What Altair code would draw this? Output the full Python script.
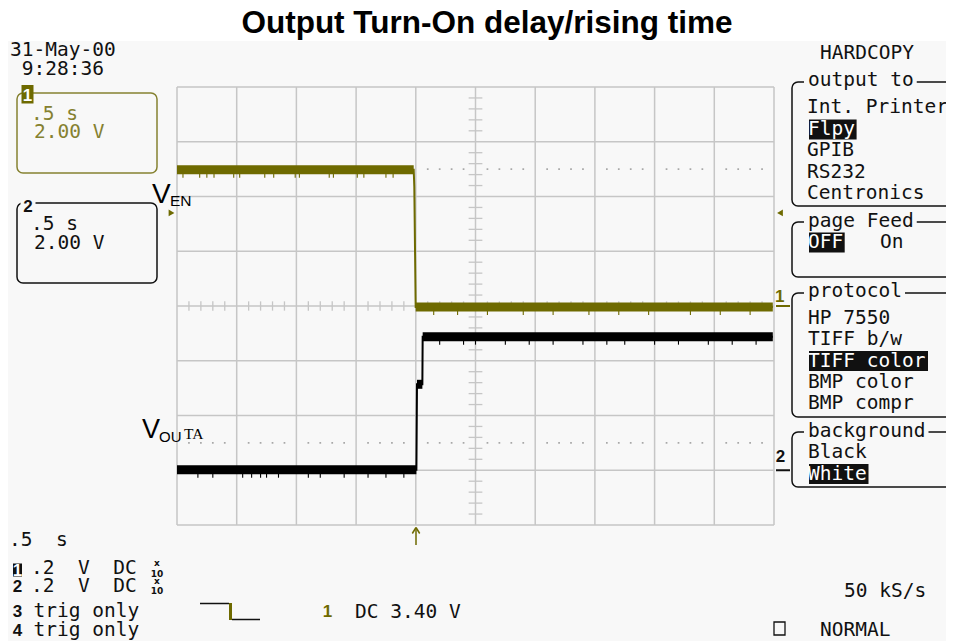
import altair as alt
import pandas as pd
import numpy as np

# ---------------- values ----------------
# time in horizontal divisions (0..10, .5 s/div), level in vertical divisions (-4..4)
ven_t = [0.0, 3.965, 3.975, 3.998, 9.98]
ven_v = [2.49, 2.49, 2.18, -0.02, -0.02]
vouta_t = [0.0, 4.010, 4.020, 4.110, 4.115, 9.98]
vouta_v = [-2.99, -2.99, -1.43, -1.43, -0.56, -0.56]
# positions (divisions) of visible noise spikes on the flat parts
ven_spikes = [0.1, 0.38, 0.5, 0.62, 0.95, 1.05, 1.47, 1.62, 1.98, 2.05, 2.55, 2.62, 3.02, 3.13,
              3.5, 3.62, 4.3, 4.7, 5.2, 5.8, 6.3, 6.9, 7.4, 7.9, 8.6, 9.1, 9.6]
vouta_spikes = [0.35, 0.6, 1.1, 1.25, 1.4, 1.5, 1.7, 2.2, 2.4, 2.8, 3.2, 3.5, 3.8,
                4.4, 4.8, 5.0, 5.5, 5.9, 6.3, 6.8, 7.2, 7.5, 8.0, 8.4, 8.9, 9.3, 9.7]
trigger_level = 1.70          # 3.40 V at 2.00 V/div
ground_levels = [0.0, -3.0]   # channel 1, channel 2

title_text = "Output Turn-On delay/rising time"
stamp = ["31-May-00", "9:28:36"]
ch_labels = [".5 s", "2.00 V"]
menu_header = "HARDCOPY"
sections = ["output to", "page Feed", "protocol", "background"]
output_items = ["Int. Printer", "Flpy", "GPIB", "RS232", "Centronics"]
feed_items = ["OFF", "On"]
protocol_items = ["HP 7550", "TIFF b/w", "TIFF color", "BMP color", "BMP compr"]
background_items = ["Black", "White"]
selected = ["Flpy", "OFF", "TIFF color", "White"]
timebase = ".5  s"
ch_rows = [".2  V  DC", ".2  V  DC", "trig only", "trig only"]
ch_nums = ["1", "2", "3", "4"]
trigger_text = "DC 3.40 V"
sample_rate = "50 kS/s"
mode_text = "NORMAL"

# ---------------- layout ----------------
X0, Y0 = 177, 87          # page position of the graticule
W, H = 597, 438           # graticule size
DIVY = H / 8
CW = 11.75                # monospace advance
OLIVE = "#6e6a00"
OLIVE2 = "#858130"
INK = "#111111"
GRID = "#c6c6c6"
SCREEN = "#f8f8f8"
WHITE = "#ffffff"

XS = alt.Scale(domain=[0, 10], nice=False, zero=False)
YS = alt.Scale(domain=[-4, 4], nice=False, zero=False)


def rx(x):
    return x - X0


def ry(y):
    return y - Y0


def nb(s):
    return s.replace(" ", "\u00a0")


PX = lambda f: alt.X(f, scale=None)
PY = lambda f: alt.Y(f, scale=None)

# ---- background of the scope screen ----
bg = alt.Chart(pd.DataFrame({"x": [rx(0)], "x2": [rx(960)], "y": [ry(41)], "y2": [ry(645)]})).mark_rect(
    fill=SCREEN).encode(x=PX("x:Q"), x2="x2:Q", y=PY("y:Q"), y2="y2:Q")

# ---- graticule ----
vl = pd.DataFrame({"t": list(range(11)), "a": -4, "b": 4})
hl = pd.DataFrame({"v": list(range(-4, 5)), "a": 0, "b": 10})
grid_v = alt.Chart(vl).mark_rule(color=GRID, strokeWidth=1.5).encode(
    x=alt.X("t:Q", scale=XS, axis=None), y=alt.Y("a:Q", scale=YS, axis=None), y2="b:Q")
grid_h = alt.Chart(hl).mark_rule(color=GRID, strokeWidth=1.5).encode(
    y=alt.Y("v:Q", scale=YS, axis=None), x=alt.X("a:Q", scale=XS, axis=None), x2="b:Q")

minor_t = [round(i * 0.2, 2) for i in range(51) if i % 5]
minor_v = [round(-4 + i * 0.2, 2) for i in range(41) if i % 5]
tk_h = pd.DataFrame({"t": minor_t, "a": -0.085, "b": 0.085})
tk_v = pd.DataFrame({"v": minor_v, "a": 5 - 0.115, "b": 5 + 0.115})
ticks_h = alt.Chart(tk_h).mark_rule(color=GRID, strokeWidth=1.3).encode(
    x=alt.X("t:Q", scale=XS, axis=None), y=alt.Y("a:Q", scale=YS, axis=None), y2="b:Q")
ticks_v = alt.Chart(tk_v).mark_rule(color=GRID, strokeWidth=1.3).encode(
    y=alt.Y("v:Q", scale=YS, axis=None), x=alt.X("a:Q", scale=XS, axis=None), x2="b:Q")
dots = pd.DataFrame([{"t": t, "v": v} for v in (2.5, -2.5) for t in minor_t])
dot_layer = alt.Chart(dots).mark_square(size=3, color="#a8a8a8", opacity=1).encode(
    x=alt.X("t:Q", scale=XS, axis=None), y=alt.Y("v:Q", scale=YS, axis=None))

# ---- traces ----
HB = 4.5 / DIVY
SP = 3.5 / DIVY


def flat_parts(ts, vs):
    rows = []
    for i in range(len(ts) - 1):
        if vs[i] == vs[i + 1] and ts[i + 1] - ts[i] > 0.05:
            rows.append((ts[i], ts[i + 1], vs[i]))
    return rows


def trace_layers(ts, vs, spikes, color):
    df = pd.DataFrame({"t": ts, "v": vs, "i": range(len(ts))})
    line = alt.Chart(df).mark_line(color=color, strokeWidth=2).encode(
        x=alt.X("t:Q", scale=XS, axis=None), y=alt.Y("v:Q", scale=YS, axis=None), order="i:Q")
    flats = flat_parts(ts, vs)
    bdf = pd.DataFrame([{"t0": a, "t1": b, "v0": v - HB, "v1": v + HB} for a, b, v in flats])
    band = alt.Chart(bdf).mark_rect(color=color).encode(
        x=alt.X("t0:Q", scale=XS, axis=None), x2="t1:Q",
        y=alt.Y("v0:Q", scale=YS, axis=None), y2="v1:Q")
    srows = []
    for t in spikes:
        for a, b, v in flats:
            if a <= t <= b:
                srows.append({"t": t, "v0": v - HB - SP, "v1": v})
    spk = alt.Chart(pd.DataFrame(srows)).mark_rule(color=color, strokeWidth=1.1).encode(
        x=alt.X("t:Q", scale=XS, axis=None), y=alt.Y("v0:Q", scale=YS, axis=None), y2="v1:Q")
    return [line, band, spk]


# ---- boxes ----
box_rows = [
    {"x": 17, "x2": 157, "y": 93, "y2": 173, "c": OLIVE2},
    {"x": 17, "x2": 157, "y": 203, "y2": 283, "c": INK},
]
sec_geom = [(82, 206, 86), (222, 277, 226.7), (293, 417, 296.7), (432, 487, 436.7)]
for (t, b, base) in sec_geom:
    box_rows.append({"x": 792, "x2": 975, "y": t, "y2": b, "c": INK})
boxes = pd.DataFrame(box_rows)
for col in ("x", "x2"):
    boxes[col] = boxes[col].map(rx)
for col in ("y", "y2"):
    boxes[col] = boxes[col].map(ry)
box_layer = alt.Chart(boxes).mark_rect(fillOpacity=0, strokeWidth=1.5, cornerRadius=6).encode(
    x=PX("x:Q"), x2="x2:Q", y=PY("y:Q"), y2="y2:Q", stroke=alt.Stroke("c:N", scale=None))

sq = pd.DataFrame({"x": [rx(774)], "x2": [rx(785)], "y": [ry(622)], "y2": [ry(635)]})
sq_layer = alt.Chart(sq).mark_rect(fillOpacity=0, strokeWidth=1.3, stroke=INK).encode(
    x=PX("x:Q"), x2="x2:Q", y=PY("y:Q"), y2="y2:Q")

# ---- filled rects: knockouts, highlights, channel blocks ----
fills = []


def frect(x, x2, y, y2, c):
    fills.append({"x": rx(x), "x2": rx(x2), "y": ry(y), "y2": ry(y2), "c": c})


mono_rows = []


def mono(text, x, y, c=INK):
    mono_rows.append({"x": rx(x), "y": ry(y), "text": nb(text), "c": c})


for name, (t, b, base) in zip(sections, sec_geom):
    frect(804, 808 + len(name) * CW + 3, t - 7, t + 7, SCREEN)
    mono(name, 808, base)

items = []
out_y = [113.4, 134.9, 156.3, 177.8, 199.3]
items += list(zip(output_items, [807] * 5, out_y))
items += [(feed_items[0], 808, 248), (feed_items[1], 880, 248)]
prot_y = [324, 345.3, 366.6, 388, 409.3]
items += list(zip(protocol_items, [808] * 5, prot_y))
items += list(zip(background_items, [808] * 2, [458, 479.5]))
for text, x, y in items:
    if text in selected:
        frect(809, 809 + len(text) * 11.9, y - 15.5, y + 4.5, INK)
        mono(text, 808, y, WHITE)
    else:
        mono(text, x, y)

frect(21.5, 33.5, 85, 103.5, OLIVE)       # channel 1 tag
frect(20.5, 35.5, 196, 213, SCREEN)       # channel 2 tag knockout
frect(13, 22, 563.5, 576.5, INK)          # channel 1 readout tag
fill_layer = alt.Chart(pd.DataFrame(fills)).mark_rect().encode(
    x=PX("x:Q"), x2="x2:Q", y=PY("y:Q"), y2="y2:Q", color=alt.Color("c:N", scale=None))

# ---- monospace readouts ----
mono(stamp[0], 10, 56)
mono(stamp[1], 21.75, 75)
mono(menu_header, 820, 59.3)
mono(ch_labels[0], 31, 119.5, OLIVE2)
mono(ch_labels[1], 34, 138.3, OLIVE2)
mono(ch_labels[0], 31, 229.5)
mono(ch_labels[1], 34, 249)
mono(timebase, 9, 546)
for text, y, x in zip(ch_rows, [574, 591.7, 617, 635.5], [31, 31, 33.5, 33.5]):
    mono(text, x, y)
mono(trigger_text, 355, 618)
mono(sample_rate, 844, 596.5)
mono(mode_text, 820, 635.5)
mono_layer = alt.Chart(pd.DataFrame(mono_rows)).mark_text(
    font="DejaVu Sans Mono", fontSize=19.5, align="left", baseline="alphabetic").encode(
    x=PX("x:Q"), y=PY("y:Q"), text="text:N", color=alt.Color("c:N", scale=None))

# ---- bold channel digits ----
digits = [
    ("1", 27.5, 100.5, WHITE), ("2", 28, 211.5, INK),
    (ch_nums[0], 17.5, 576, WHITE), (ch_nums[1], 17.5, 591.7, INK),
    (ch_nums[2], 17.5, 617, INK), (ch_nums[3], 17.5, 635.5, INK),
    ("1", 327.5, 617.3, OLIVE), ("1", 779.7, 301.7, OLIVE), ("2", 780.5, 461.7, INK),
]
dig = pd.DataFrame([{"x": rx(x), "y": ry(y), "text": t, "c": c} for t, x, y, c in digits])
dig_layer = alt.Chart(dig).mark_text(
    font="Liberation Sans", fontWeight="bold", fontSize=17, align="center", baseline="alphabetic").encode(
    x=PX("x:Q"), y=PY("y:Q"), text="text:N", color=alt.Color("c:N", scale=None))

# x10 probe marks
small = []
for base in (0, 17.7):
    small.append({"x": rx(157), "y": ry(566 + base), "text": "x", "s": 9})
    small.append({"x": rx(157), "y": ry(576.5 + base), "text": "10", "s": 9})
small_layer = alt.Chart(pd.DataFrame(small)).mark_text(
    font="DejaVu Sans", fontWeight="bold", align="center", baseline="alphabetic", color=INK).encode(
    x=PX("x:Q"), y=PY("y:Q"), text="text:N", size=alt.Size("s:Q", scale=None))

# ---- line segments: trigger icon, trigger arrow ----
segs = [
    (200, 603.5, 229, 603.5, INK, 1.5), (230.5, 603, 230.5, 620, OLIVE, 3),
    (232, 619.5, 260, 619.5, INK, 1.5),
    (416, 528.5, 416, 545, OLIVE, 1.5), (412.3, 533.5, 416, 527.5, OLIVE, 1.5),
    (419.7, 533.5, 416, 527.5, OLIVE, 1.5),
]
seg_df = pd.DataFrame([{"x": rx(a), "y": ry(b), "x2": rx(c), "y2": ry(d), "c": col, "w": w}
                       for a, b, c, d, col, w in segs])
seg_layer = alt.Chart(seg_df).mark_rule().encode(
    x=PX("x:Q"), y=PY("y:Q"), x2="x2:Q", y2="y2:Q",
    color=alt.Color("c:N", scale=None), strokeWidth=alt.StrokeWidth("w:Q", scale=None))

gnd = pd.DataFrame({"x": [rx(776), rx(776)], "x2": [rx(790), rx(790)],
                    "v": ground_levels, "c": [OLIVE, INK]})
gnd_layer = alt.Chart(gnd).mark_rule(strokeWidth=2).encode(
    x=PX("x:Q"), x2="x2:Q", y=alt.Y("v:Q", scale=YS, axis=None), color=alt.Color("c:N", scale=None))

trig = pd.DataFrame({"x": [rx(171.5), rx(780)], "v": [trigger_level, trigger_level],
                     "s": ["triangle-right", "triangle-left"]})
trig_layer = alt.Chart(trig).mark_point(filled=True, size=45, color=OLIVE, opacity=1).encode(
    x=PX("x:Q"), y=alt.Y("v:Q", scale=YS, axis=None), shape=alt.Shape("s:N", scale=None))

# ---- trace labels and title ----
lab = pd.DataFrame([
    {"x": rx(152), "y": ry(202.7), "text": "V", "s": 28},
    {"x": rx(170), "y": ry(206), "text": "EN", "s": 15.5},
    {"x": rx(142), "y": ry(438.3), "text": "V", "s": 27},
    {"x": rx(159), "y": ry(442.3), "text": "OU", "s": 15},
])
lab_layer = alt.Chart(lab).mark_text(font="Liberation Sans", align="left", baseline="alphabetic",
                                     color="#000000").encode(
    x=PX("x:Q"), y=PY("y:Q"), text="text:N", size=alt.Size("s:Q", scale=None))
ta = pd.DataFrame({"x": [rx(184)], "y": [ry(439)], "text": ["TA"]})
ta_layer = alt.Chart(ta).mark_text(font="Liberation Serif", fontSize=15.5, align="left",
                                   baseline="alphabetic", color="#000000").encode(
    x=PX("x:Q"), y=PY("y:Q"), text="text:N")
ttl = pd.DataFrame({"x": [rx(487)], "y": [ry(33)], "text": [title_text]})
ttl_layer = alt.Chart(ttl).mark_text(font="Liberation Sans", fontWeight="bold", fontSize=31.5,
                                     align="center", baseline="alphabetic", color="#000000").encode(
    x=PX("x:Q"), y=PY("y:Q"), text="text:N")

layers = [bg, grid_v, grid_h, ticks_h, ticks_v, dot_layer]
layers += trace_layers(vouta_t, vouta_v, vouta_spikes, "#000000")
layers += trace_layers(ven_t, ven_v, ven_spikes, OLIVE)
layers += [box_layer, sq_layer, fill_layer, seg_layer, gnd_layer, trig_layer,
           mono_layer, dig_layer, small_layer, lab_layer, ta_layer, ttl_layer]

chart = alt.layer(*layers).properties(
    width=W, height=H,
    autosize=alt.AutoSizeParams(type="none"),
    padding={"left": X0 - 8, "top": Y0 - 8, "right": 172, "bottom": 118},
    background="#ffffff",
).configure_view(stroke=None)

chart.save("out.html", embed_options={"renderer": "svg", "actions": False})
